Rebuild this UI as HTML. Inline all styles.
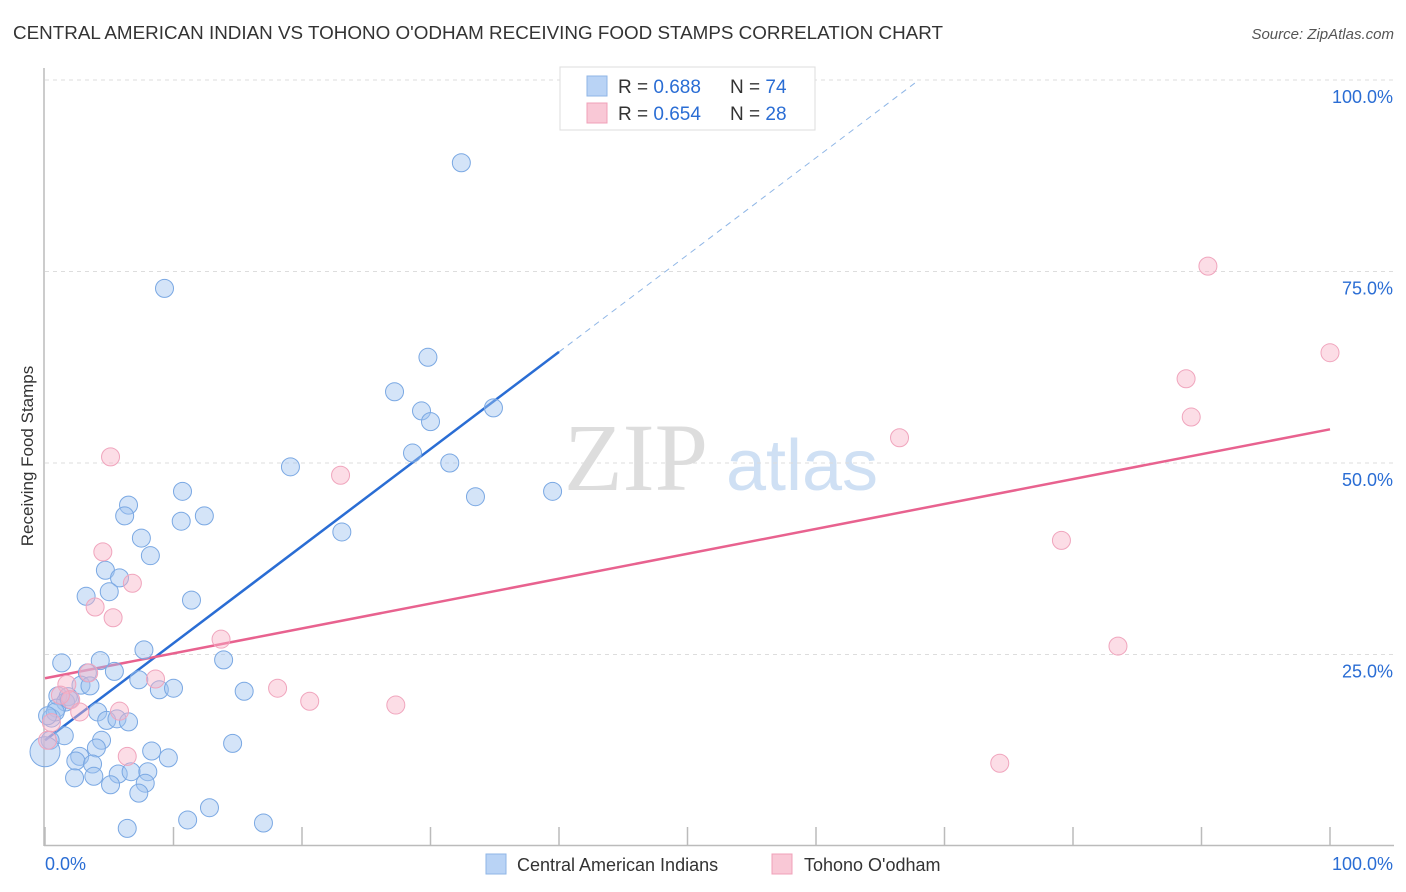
<!DOCTYPE html>
<html><head><meta charset="utf-8"><style>
body{margin:0;background:#fff;font-family:"Liberation Sans",sans-serif;}
svg{display:block}
</style></head><body>
<svg id="chart" width="1406" height="892" xmlns="http://www.w3.org/2000/svg">
<text x="13" y="39" font-size="18" fill="#333" textLength="930" lengthAdjust="spacingAndGlyphs">CENTRAL AMERICAN INDIAN VS TOHONO O'ODHAM RECEIVING FOOD STAMPS CORRELATION CHART</text>
<text x="1394" y="39" font-size="15" fill="#555" font-style="italic" text-anchor="end">Source: ZipAtlas.com</text>
<text transform="translate(33,456) rotate(-90)" font-size="17" fill="#333" text-anchor="middle">Receiving Food Stamps</text>
<g>
<text x="636" y="490" font-size="96" font-family="Liberation Serif,serif" fill="#ddd" text-anchor="middle">ZIP</text>
<text x="802" y="490" font-size="72" fill="#cfe0f4" text-anchor="middle">atlas</text>
</g>
<g id="grid"></g><g id="axes"></g><g id="lines"></g><g id="marks"></g>
<g>
<rect x="560" y="67" width="255" height="63" fill="#fff" stroke="#ddd"/>
<rect x="587" y="76" width="20" height="20" fill="#b9d3f5" stroke="#8fb6e6"/>
<rect x="587" y="103" width="20" height="20" fill="#f9c8d6" stroke="#f0a0b8"/>
<text x="618" y="93" font-size="19" fill="#333">R = <tspan fill="#2a6dd4">0.688</tspan></text>
<text x="730" y="93" font-size="19" fill="#333">N = <tspan fill="#2a6dd4">74</tspan></text>
<text x="618" y="120" font-size="19" fill="#333">R = <tspan fill="#2a6dd4">0.654</tspan></text>
<text x="730" y="120" font-size="19" fill="#333">N = <tspan fill="#2a6dd4">28</tspan></text>
</g>
<g>
<rect x="486" y="854" width="20" height="20" fill="#b9d3f5" stroke="#8fb6e6"/>
<text x="517" y="871" font-size="18" fill="#333">Central American Indians</text>
<rect x="772" y="854" width="20" height="20" fill="#f9c8d6" stroke="#f0a0b8"/>
<text x="804" y="871" font-size="18" fill="#333">Tohono O'odham</text>
</g>
</svg>
<script>
const blueX=[32.4,9.3,29.8,27.2,29.3,30.0,34.9,28.6,31.5,19.1,33.5,39.5,10.7,6.5,6.2,10.6,12.4,23.1,7.5,8.2,4.7,5.8,5.0,3.2,11.4,7.7,1.3,4.3,13.9,3.3,5.4,7.3,2.8,3.5,8.9,10.0,15.5,1.0,1.8,1.6,0.9,4.1,4.8,5.6,6.5,0.5,0.8,1.5,0.4,0,14.6,4.4,4.0,2.7,8.3,9.6,2.4,3.7,5.7,6.7,8.0,2.3,3.8,5.1,7.8,7.3,12.8,11.1,17.0,6.4,0.2,1.9];
const blueY=[89.2,72.8,63.8,59.3,56.8,55.4,57.2,51.3,50.0,49.5,45.6,46.3,46.3,44.5,43.1,42.4,43.1,41.0,40.2,37.9,36.0,35.0,33.2,32.6,32.1,25.6,23.9,24.2,24.3,22.6,22.8,21.7,21.0,20.9,20.4,20.6,20.2,19.6,19.5,18.8,18.0,17.5,16.4,16.6,16.2,16.7,17.5,14.4,13.8,12.3,13.4,13.8,12.8,11.7,12.4,11.5,11.1,10.7,9.4,9.7,9.7,8.9,9.1,8.0,8.2,6.9,5.0,3.4,3.0,2.3,17.0,19.1];
const pinkX=[90.5,100,88.8,89.2,66.5,5.1,23.0,79.1,4.5,6.8,3.9,5.3,13.7,83.5,3.4,8.6,1.7,18.1,20.6,27.3,2.0,2.7,5.8,0.5,6.4,74.3,0.2,1.2];
const pinkY=[75.7,64.4,61.0,56.0,53.3,50.8,48.4,39.9,38.4,34.3,31.2,29.8,27.0,26.1,22.6,21.8,21.1,20.6,18.9,18.4,19.1,17.5,17.6,16.1,11.7,10.8,13.8,19.7];
const blueTrend=[13.8,1.2675];
const pinkTrend=[21.9,0.325];
const yTicks=[25,50,75,100];
const yTickLabels=["25.0%","50.0%","75.0%","100.0%"];
const xTicks=[0,10,20,30,40,50,60,70,80,90,100];

const NS="http://www.w3.org/2000/svg";
const X=v=>45+v*12.85, Y=v=>846-v*7.66;
function mk(parent,tag,attrs){const e=document.createElementNS(NS,tag);for(const k in attrs)e.setAttribute(k,attrs[k]);document.getElementById(parent).appendChild(e);return e;}
yTicks.forEach((t,i)=>{
 const g=mk('grid','line',{x1:45,x2:1394,y1:Y(t),y2:Y(t),stroke:'#ddd','stroke-dasharray':'4,4'});
 
 
 const l=mk('axes','text',{x:1393,y:Y(t)+23,'font-size':18,fill:'#2a6dd4','text-anchor':'end'});
 l.textContent=yTickLabels[i];
 
 
});
let a=mk('axes','line',{x1:44,x2:44,y1:68,y2:846,stroke:'#bbb','stroke-width':1.5});


a=mk('axes','line',{x1:44,x2:1394,y1:845.5,y2:845.5,stroke:'#bbb','stroke-width':1.5});


xTicks.forEach(t=>{const k=mk('axes','line',{x1:X(t),x2:X(t),y1:827,y2:846,stroke:'#bbb','stroke-width':1.5});
 
 });
let t0=mk('axes','text',{x:45,y:870,'font-size':18,fill:'#2a6dd4'});t0.textContent='0.0%';


let t1=mk('axes','text',{x:1393,y:870,'font-size':18,fill:'#2a6dd4','text-anchor':'end'});t1.textContent='100.0%';



function dot(x,y,r,fill,stroke,name){const c=mk('marks','circle',{cx:X(x),cy:Y(y),r:r,fill:fill,stroke:stroke,'stroke-width':1});
 
 }
blueX.forEach((x,i)=>dot(x,blueY[i],x===0?15:9,'rgba(160,196,240,0.45)','#7aa8e3','blue-point'));
pinkX.forEach((x,i)=>dot(x,pinkY[i],9,'rgba(248,180,200,0.45)','#f0a5bd','pink-point'));

const bEnd=(100-blueTrend[0])/blueTrend[1];
let bl=mk('lines','line',{x1:X(0),y1:Y(blueTrend[0]),x2:X(40),y2:Y(blueTrend[0]+40*blueTrend[1]),stroke:'#2a6dd4','stroke-width':2.5});


bl=mk('lines','line',{x1:X(40),y1:Y(blueTrend[0]+40*blueTrend[1]),x2:X(bEnd),y2:Y(100),stroke:'#8fb6e6','stroke-width':1,'stroke-dasharray':'6,5'});


let pl=mk('lines','line',{x1:X(0),y1:Y(pinkTrend[0]),x2:X(100),y2:Y(pinkTrend[0]+100*pinkTrend[1]),stroke:'#e8628f','stroke-width':2.5});


</script>
</body></html>
